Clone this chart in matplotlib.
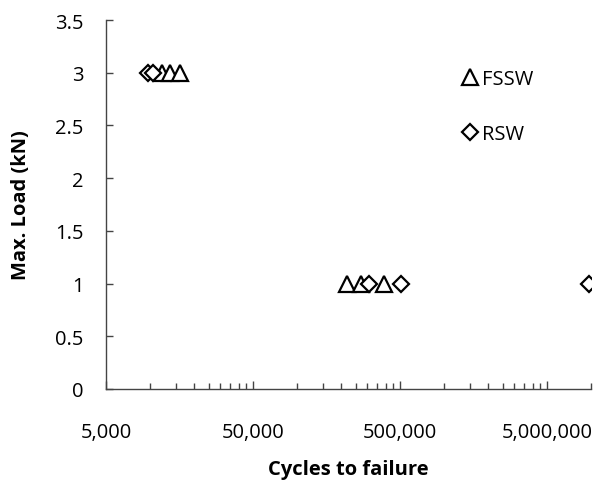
import numpy as np
import matplotlib
matplotlib.use("Agg")
import matplotlib.pyplot as plt
from matplotlib.ticker import FixedLocator, FuncFormatter

plt.rcParams["font.family"] = ["Open Sans", "DejaVu Sans"]

# FSSW data (triangles)
fssw_cycles = [12000, 13600, 15900, 218000, 271000, 389000]
fssw_load = [3, 3, 3, 1, 1, 1]

# RSW data (diamonds)
rsw_cycles = [9700, 10400, 308000, 508000, 9660000]
rsw_load = [3, 3, 1, 1, 1]

x_major = [5000, 50000, 500000, 5000000]
y_ticks = [0, 0.5, 1, 1.5, 2, 2.5, 3, 3.5]

fig = plt.figure(figsize=(6.05, 4.89), dpi=100)
ax = fig.add_axes([0.175, 0.2025, 0.802, 0.7545])

ax.plot(fssw_cycles, fssw_load, linestyle="none", marker="^", markersize=11,
        markerfacecolor="white", markeredgecolor="black", markeredgewidth=1.6,
        label="FSSW")
ax.plot(rsw_cycles, rsw_load, linestyle="none", marker="D", markersize=8,
        markerfacecolor="white", markeredgecolor="black", markeredgewidth=1.6,
        label="RSW")

ax.set_xscale("log")
ax.set_xlim(5000, 1e7)
ax.set_ylim(0, 3.5)

# excel-style minor ticks: multiples of each major
minors = [m * k for m in x_major for k in range(2, 10) if m * k <= 1e7]
ax.xaxis.set_major_locator(FixedLocator(x_major))
ax.xaxis.set_minor_locator(FixedLocator(minors))
ax.xaxis.set_major_formatter(FuncFormatter(lambda v, p: f"{int(v):,}"))
ax.xaxis.set_minor_formatter(FuncFormatter(lambda v, p: ""))

ax.set_yticks(y_ticks)
ax.set_yticklabels(["0", "0.5", "1", "1.5", "2", "2.5", "3", "3.5"])

for s in ["top", "right"]:
    ax.spines[s].set_visible(False)
for s in ["left", "bottom"]:
    ax.spines[s].set_color("#444444")
    ax.spines[s].set_linewidth(1.0)

ax.tick_params(axis="x", which="major", direction="in", length=6, width=1,
               color="#444444", labelsize=14.5, pad=24)
ax.tick_params(axis="x", which="minor", direction="in", length=4, width=1,
               color="#444444")
ax.tick_params(axis="y", direction="in", length=5, width=1, color="#444444",
               labelsize=14.5, pad=16)

ax.set_xlabel("Cycles to failure", fontsize=14.5, fontweight="bold", labelpad=12)
ax.set_ylabel("Max. Load (kN)", fontsize=14.5, fontweight="bold")
ax.yaxis.set_label_coords(-0.155, 0.5)

ax.legend(loc="upper left", bbox_to_anchor=(0.713, 0.889), frameon=False,
          fontsize=14.5, handletextpad=0.1, labelspacing=1.75, handlelength=1.0,
          borderaxespad=0)

fig.savefig("out.png", dpi=100)
